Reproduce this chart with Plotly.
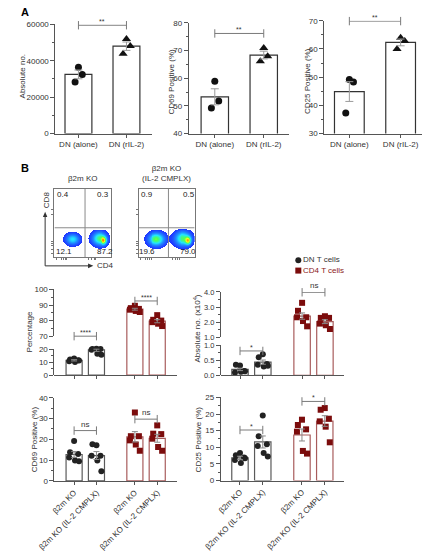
import numpy as np
import plotly.graph_objects as go

W, H = 426, 552
FONT = "Arial, Liberation Sans, sans-serif"

# ------------------------------------------------------------------ data
# Panel A
A_CATS = ["DN (alone)", "DN (rIL-2)"]
A_POS = [0, 1]
A1_MEAN = [32500, 48000]
A1_SEM = [2400, 2300]
A1_PTS = [[36500, 32500, 28400], [51900, 48100, 43800]]
A2_MEAN = [53.3, 68.4]
A2_SEM = [2.9, 1.4]
A2_PTS = [[58.9, 51.8, 49.3], [70.9, 68.0, 66.2]]
A3_MEAN = [44.9, 62.3]
A3_SEM = [3.5, 1.2]
A3_PTS = [[49.2, 48.3, 37.3], [64.0, 62.8, 60.0]]
A_SIG = ["**", "**", "**"]
A_SIG_Y = [59500, 76.2, 69.85]
A_JITTER = [0.0, 0.08, -0.07]

# Panel B - flow plots
FLOW_TITLES = ["β2m KO", "β2m KO<br>(IL-2 CMPLX)"]
FLOW_QUADS = [["0.4", "0.3", "12.1", "87.2"], ["0.9", "0.5", "19.6", "79.0"]]
# populations: centre x, centre y, sd x, sd y, relative density
FLOW_POPS = [
    [(0.32, 0.26, 0.082, 0.056, 0.42), (0.79, 0.27, 0.090, 0.068, 0.55), (0.87, 0.24, 0.035, 0.040, 0.50)],
    [(0.31, 0.26, 0.100, 0.066, 0.60), (0.78, 0.27, 0.100, 0.075, 0.55), (0.88, 0.24, 0.035, 0.040, 0.50)],
]
FLOW_GATES = [(0.54, 0.43), (0.53, 0.43)]

# Panel B - bar charts
B_CATS = ["β2m KO", "β2m KO (IL-2 CMPLX)", "β2m KO", "β2m KO (IL-2 CMPLX)"]
B_POS = [0, 1, 2.72, 3.72]
B_CELL = ["DN T cells", "DN T cells", "CD4 T cells", "CD4 T cells"]

PCT_MEAN = [11.5, 19.5, 87.3, 79.6]
PCT_SEM = [0.5, 1.1, 0.6, 1.0]
PCT_PTS = [[12.8, 12.2, 11.6, 10.8, 10.2, 11.4],
           [22.5, 21.0, 20.8, 19.6, 16.5, 15.8],
           [89.5, 88.0, 87.5, 87.0, 86.2, 85.5],
           [83.5, 80.5, 80.0, 79.0, 78.0, 76.5]]
PCT_SIG = [("****", 0, 1, 70.0), ("****", 2.72, 3.72, 92.6)]

ABS_MEAN = [0.20, 0.44, 2.40, 2.03]
ABS_SEM = [0.04, 0.07, 0.21, 0.13]
ABS_PTS = [[0.33, 0.35, 0.15, 0.10, 0.12, 0.14],
           [0.70, 0.60, 0.38, 0.35, 0.30, 0.32],
           [3.28, 2.75, 2.32, 2.32, 2.07, 1.72],
           [2.39, 2.28, 2.28, 1.90, 1.79, 1.54]]
ABS_SIG = [("*", 0, 1, 0.81), ("ns", 2.72, 3.72, 3.98)]

CD69_MEAN = [12.7, 12.2, 21.2, 20.5]
CD69_SEM = [1.4, 1.9, 2.5, 1.9]
CD69_PTS = [[19.2, 13.8, 12.9, 11.3, 9.8, 9.4],
            [17.2, 17.6, 12.1, 12.1, 9.8, 4.7],
            [32.9, 21.5, 21.5, 19.5, 17.5, 14.5],
            [26.7, 22.7, 22.5, 20.3, 16.3, 14.5]]
CD69_SIG = [("ns", 0, 1, 24.2), ("ns", 2.72, 3.72, 29.7)]

CD25_MEAN = [6.8, 11.6, 13.7, 17.9]
CD25_SEM = [0.5, 1.8, 1.8, 1.6]
CD25_PTS = [[8.3, 7.6, 6.9, 6.2, 5.3, 6.7],
            [19.6, 13.3, 10.9, 10.4, 8.3, 7.2],
            [18.3, 16.7, 15.4, 14.7, 8.9, 8.1],
            [21.8, 21.3, 18.6, 17.8, 16.2, 11.5]]
CD25_SIG = [("*", 0, 1, 15.2), ("*", 2.72, 3.72, 23.8)]
B_JITTER = [0.0, -0.18, 0.18, -0.22, 0.04, 0.22]

# ------------------------------------------------------------------ styles
LINE = "#555555"
SIGC = "#7a7a7a"
TICKFONT = dict(size=8, color="#333333")
A_STY = [dict(bar="#333333", sym="circle", size=7, mk="#111111", err="#9a9a9a", cap=4),
         dict(bar="#333333", sym="triangle-up", size=8, mk="#111111", err="#9a9a9a", cap=4)]
DN_STY = dict(bar="#5a5a5a", sym="circle", size=6, mk="#222222", err="#888888", cap=3)
CD4_STY = dict(bar="#a85c5c", sym="square", size=6, mk="#7b0c0c", err="#888888", cap=3)
B_STY = [DN_STY, DN_STY, CD4_STY, CD4_STY]
FLOW_SCALE = [[0, "#1f35ff"], [0.22, "#1f8fff"], [0.38, "#22e6ff"], [0.55, "#4cff5a"],
              [0.7, "#f2ff1e"], [0.83, "#ff8a00"], [1, "#ec0000"]]

layout = dict(width=W, height=H, autosize=False,
              margin=dict(l=0, r=0, t=0, b=0, pad=0),
              paper_bgcolor="white", plot_bgcolor="rgba(0,0,0,0)",
              font=dict(family=FONT, size=8, color="#333333"),
              showlegend=False, barmode="overlay")
traces, annotations, shapes = [], [], []
counters = {"x": 0, "y": 0}


def add_axis(kind):
    counters[kind] += 1
    n = counters[kind]
    return kind + ("" if n == 1 else str(n))


def key(ref):
    return ref[0] + "axis" + ref[1:]


def dom_x(a, b):
    return [a / W, b / W]


def dom_y(top, bot):
    return [1 - bot / H, 1 - top / H]


def y_props(domain, rng, dtick=None, mdtick=None, fmt=None, show=True, fsize=8):
    p = dict(domain=domain, range=rng, showgrid=False, zeroline=False, fixedrange=True)
    if show:
        p.update(showline=True, linecolor=LINE, linewidth=1, ticks="outside", ticklen=4,
                 tickwidth=1, tickcolor=LINE, tickmode="linear", tick0=rng[0], dtick=dtick,
                 tickfont=dict(size=fsize, color="#333333"),
                 minor=dict(ticks="outside", ticklen=2, tickwidth=1, tickcolor=LINE,
                            tickmode="linear", tick0=rng[0], dtick=mdtick, showgrid=False))
        if fmt:
            p["tickformat"] = fmt
    else:
        p.update(showline=False, ticks="", showticklabels=False)
    return p


def x_props(domain, rng, tickvals, ticktext=None, angle=0):
    p = dict(domain=domain, range=rng, showgrid=False, zeroline=False, fixedrange=True,
             showline=True, linecolor=LINE, linewidth=1, ticks="outside", ticklen=3,
             tickwidth=1, tickcolor=LINE, tickmode="array", tickvals=tickvals, tickfont=TICKFONT)
    if ticktext is None:
        p["showticklabels"] = False
    else:
        p.update(ticktext=ticktext, tickangle=angle)
    return p


def ident(v):
    return np.asarray(v, dtype=float)


def std_panel(xpx, ypx, xrng, yrng, dtick, mdtick, tickvals, ticktext, angle=0, fmt=None):
    xr, yr = add_axis("x"), add_axis("y")
    layout[key(xr)] = x_props(dom_x(*xpx), xrng, tickvals, ticktext, angle)
    layout[key(xr)]["anchor"] = yr
    layout[key(yr)] = y_props(dom_y(*ypx), yrng, dtick, mdtick, fmt)
    layout[key(yr)]["anchor"] = xr
    return xr, yr


def broken_panel(xpx, top, bot, lo_top, hi_bot, lo_seg, hi_seg, xrng, lo_t, hi_t,
                 tickvals, ticktext=None, fmt=None, fsize=8):
    px_lo, gap, px_hi = bot - lo_top, lo_top - hi_bot, hi_bot - top
    total = bot - top

    def tf(v):
        v = np.asarray(v, dtype=float)
        a0, a1 = lo_seg
        b0, b1 = hi_seg
        lo = (v - a0) / (a1 - a0) * px_lo
        hi = px_lo + gap + (v - b0) / (b1 - b0) * px_hi
        mid = px_lo + (v - a1) / max(b0 - a1, 1e-9) * gap
        return np.where(v <= a1, lo, np.where(v >= b0, hi, mid))

    xr = add_axis("x")
    yd, yl, yu = add_axis("y"), add_axis("y"), add_axis("y")
    layout[key(xr)] = x_props(dom_x(*xpx), xrng, tickvals, ticktext)
    layout[key(xr)]["anchor"] = yd
    layout[key(yd)] = y_props(dom_y(top, bot), [0, total], show=False)
    layout[key(yd)]["anchor"] = xr
    layout[key(yl)] = y_props(dom_y(lo_top, bot), list(lo_seg), lo_t[0], lo_t[1], fmt, fsize=fsize)
    layout[key(yl)]["anchor"] = xr
    layout[key(yu)] = y_props(dom_y(top, hi_bot), list(hi_seg), hi_t[0], hi_t[1], fmt, fsize=fsize)
    layout[key(yu)]["anchor"] = xr
    for ya in (yl, yu):
        traces.append(go.Scatter(x=[None], y=[None], xaxis=xr, yaxis=ya, showlegend=False,
                                 hoverinfo="skip"))
    return xr, yd, tf


def draw_groups(xr, yr, pos, means, sems, pts, jitter, styles, width, tf=ident):
    for p, m, s, pp, st in zip(pos, means, sems, pts, styles):
        ym = float(tf(m))
        traces.append(go.Bar(x=[p], y=[ym], width=width, xaxis=xr, yaxis=yr,
                             marker=dict(color="white", line=dict(color=st["bar"], width=1.2)),
                             showlegend=False, hoverinfo="skip"))
        traces.append(go.Scatter(x=[p + j for j in jitter[:len(pp)]], y=tf(pp).tolist(),
                                 mode="markers", xaxis=xr, yaxis=yr, cliponaxis=False,
                                 marker=dict(symbol=st["sym"], size=st["size"], color=st["mk"]),
                                 showlegend=False, hoverinfo="skip"))
        up = float(tf(m + s)) - ym
        dn = ym - float(tf(m - s))
        traces.append(go.Scatter(x=[p], y=[ym], mode="markers", xaxis=xr, yaxis=yr,
                                 marker=dict(size=1, color="rgba(0,0,0,0)"), cliponaxis=False,
                                 error_y=dict(type="data", symmetric=False, array=[up],
                                              arrayminus=[dn], color=st["err"], thickness=1,
                                              width=st["cap"]),
                                 showlegend=False, hoverinfo="skip"))


def sig(xr, yr, x0, x1, y, text, tf=ident):
    yy = float(tf(y))
    traces.append(go.Scatter(x=[x0, x1], y=[yy, yy], mode="lines+markers", xaxis=xr, yaxis=yr,
                             line=dict(color=SIGC, width=1), cliponaxis=False,
                             marker=dict(symbol="line-ns-open", size=6,
                                         line=dict(color=SIGC, width=1)),
                             showlegend=False, hoverinfo="skip"))
    star = "*" in text
    annotations.append(dict(text=text, x=(x0 + x1) / 2, y=yy, xref=xr, yref=yr,
                            showarrow=False, yanchor="bottom", xanchor="center",
                            yshift=-2 if star else 0,
                            font=dict(size=7 if star else 8, color="#333333")))


def paper_text(text, px, py, angle=0, size=8, color="#333333", xanchor="center",
               yanchor="middle", bold=False):
    annotations.append(dict(text=f"<b>{text}</b>" if bold else text, x=px / W, y=1 - py / H,
                            xref="paper", yref="paper", showarrow=False, textangle=angle,
                            xanchor=xanchor, yanchor=yanchor,
                            font=dict(size=size, color=color)))


# ------------------------------------------------------------------ panel A
A_PANELS = [
    dict(xpx=(40, 141), ypx=(20.7, 132), xrng=[-0.48, 1.54], yrng=[0, 60000], dt=20000, mdt=10000,
         mean=A1_MEAN, sem=A1_SEM, pts=A1_PTS, w=0.56, title="Absolute no.", tx=6, ty=74, fmt="d"),
    dict(xpx=(179, 283), ypx=(19.3, 132), xrng=[-0.53, 1.51], yrng=[40, 80], dt=10, mdt=5,
         mean=A2_MEAN, sem=A2_SEM, pts=A2_PTS, w=0.56, title="CD69 Positive (%)", tx=161.5, ty=79, fmt="d"),
    dict(xpx=(320, 422), ypx=(17, 132), xrng=[-0.49, 1.42], yrng=[30, 70], dt=10, mdt=5,
         mean=A3_MEAN, sem=A3_SEM, pts=A3_PTS, w=0.58, title="CD25 Positive (%)", tx=302.5, ty=78, fmt="d"),
]
for i, P in enumerate(A_PANELS):
    xr, yr = std_panel(P["xpx"], P["ypx"], P["xrng"], P["yrng"], P["dt"], P["mdt"], A_POS, A_CATS,
                       fmt=P["fmt"])
    draw_groups(xr, yr, A_POS, P["mean"], P["sem"], P["pts"], A_JITTER, A_STY, P["w"])
    sig(xr, yr, A_POS[0], A_POS[1], A_SIG_Y[i], A_SIG[i])
    paper_text(P["title"], P["tx"], P["ty"], angle=-90)

paper_text("A", 2, 8, size=11, color="#000000", xanchor="left", bold=True)
paper_text("B", 2, 167, size=11, color="#000000", xanchor="left", bold=True)

# ------------------------------------------------------------------ flow plots
FLOW_BOX = [dict(x=(39, 98), y=(188, 258), tx=69, quad=[(0.15, 0.91), (0.86, 0.91), (0.17, 0.09), (0.89, 0.09)]),
            dict(x=(127, 185), y=(188, 258), tx=156, quad=[(0.14, 0.91), (0.9, 0.91), (0.15, 0.09), (0.88, 0.09)])]
gx = np.linspace(0, 1, 61)
gy = np.linspace(0, 1, 71)
GX, GY = np.meshgrid(gx, gy)
THR = 0.06
for k, B in enumerate(FLOW_BOX):
    xr, yr = add_axis("x"), add_axis("y")
    common = dict(range=[0, 1], showgrid=False, zeroline=False, fixedrange=True, showline=True,
                  mirror=True, linecolor="#777777", linewidth=1, ticks="outside", ticklen=2,
                  tickcolor="#777777", showticklabels=False, tickmode="array")
    layout[key(xr)] = dict(domain=dom_x(*B["x"]), anchor=yr,
                           tickvals=[0.03, 0.12, 0.16, 0.19, 0.22, 0.6, 0.66, 0.7, 0.73], **common)
    layout[key(yr)] = dict(domain=dom_y(*B["y"]), anchor=xr,
                           tickvals=[0.05, 0.12, 0.17, 0.2, 0.23, 0.62, 0.7], **common)
    Z = np.zeros_like(GX)
    for cx, cy, sx, sy, a in FLOW_POPS[k]:
        Z += a * np.exp(-0.5 * (((GX - cx) / sx) ** 2 + ((GY - cy) / sy) ** 2))
    Zl = [[float(v) if v >= THR else None for v in row] for row in Z]
    traces.append(go.Heatmap(x=gx, y=gy, z=Zl, colorscale=FLOW_SCALE, zmin=THR, zmax=1.0,
                             showscale=False, xaxis=xr, yaxis=yr, hoverinfo="skip"))
    vx, hy = FLOW_GATES[k]
    shapes.append(dict(type="line", xref=xr, yref=yr, x0=vx, x1=vx, y0=0, y1=1,
                       line=dict(color="#8a8a8a", width=1)))
    shapes.append(dict(type="line", xref=xr, yref=yr, x0=0, x1=1, y0=hy, y1=hy,
                       line=dict(color="#8a8a8a", width=1)))
    for txt, (qx, qy) in zip(FLOW_QUADS[k], B["quad"]):
        annotations.append(dict(text=txt, x=qx, y=qy, xref=xr, yref=yr, showarrow=False,
                                font=dict(size=8, color="#222222")))
    paper_text(FLOW_TITLES[k], B["tx"], 184.5, yanchor="bottom")

# axis arrows for the flow plots
shapes.append(dict(type="line", xref="paper", yref="paper", x0=29.3 / W, x1=29.3 / W,
                   y0=1 - 266.7 / H, y1=1 - 216 / H, line=dict(color="#333333", width=1)))
shapes.append(dict(type="line", xref="paper", yref="paper", x0=29.3 / W, x1=75 / W,
                   y0=1 - 266.7 / H, y1=1 - 266.7 / H, line=dict(color="#333333", width=1)))
shapes.append(dict(type="path", xref="paper", yref="paper",
                   path=f"M {27 / W},{1 - 217 / H} L {31.6 / W},{1 - 217 / H} L {29.3 / W},{1 - 211.5 / H} Z",
                   fillcolor="#333333", line=dict(width=0)))
shapes.append(dict(type="path", xref="paper", yref="paper",
                   path=f"M {74 / W},{1 - 264.4 / H} L {74 / W},{1 - 269 / H} L {79.5 / W},{1 - 266.7 / H} Z",
                   fillcolor="#333333", line=dict(width=0)))
paper_text("CD8", 31, 199, angle=-90)
paper_text("CD4", 81, 266.7, xanchor="left")

# legend
lx, ly = add_axis("x"), add_axis("y")
layout[key(lx)] = dict(domain=dom_x(293, 400), range=[0, 1], visible=False, anchor=ly, fixedrange=True)
layout[key(ly)] = dict(domain=dom_y(261, 271.5), range=[0, 1], visible=False, anchor=lx, fixedrange=True)
for yv, name, st, col in [(1, "DN T cells", DN_STY, "#333333"), (0, "CD4 T cells", CD4_STY, "#8b1a1a")]:
    traces.append(go.Scatter(x=[0], y=[yv], mode="markers+text", text=[name],
                             textposition="middle right", textfont=dict(size=8, color=col),
                             marker=dict(symbol=st["sym"], size=6, color=st["mk"]),
                             xaxis=lx, yaxis=ly, cliponaxis=False, showlegend=False,
                             hoverinfo="skip"))

# ------------------------------------------------------------------ B bar panels
# Percentage (broken axis 0-20 / 70-100)
xr, yd, tf = broken_panel((39, 167), 290.7, 378, 351.7, 338.3, (0, 20), (70, 100),
                          [-0.88, 4.62], (10, 5), (10, 5), B_POS)
draw_groups(xr, yd, B_POS, PCT_MEAN, PCT_SEM, PCT_PTS, B_JITTER, B_STY, 0.72, tf)
for t, x0, x1, y in PCT_SIG:
    sig(xr, yd, x0, x1, y, t, tf)
paper_text("Percentage", 13, 334, angle=-90)

# Absolute number (broken axis 0-1 / 1-4)
xr, yd, tf = broken_panel((212.3, 340.7), 293.3, 378.3, 347.5, 339.3, (0, 1), (1, 4),
                          [-0.84, 4.56], (0.5, 0.25), (1, 0.5), B_POS, fmt=".1f", fsize=7.5)
draw_groups(xr, yd, B_POS, ABS_MEAN, ABS_SEM, ABS_PTS, B_JITTER, B_STY, 0.72, tf)
for t, x0, x1, y in ABS_SIG:
    sig(xr, yd, x0, x1, y, t, tf)
paper_text("Absolute no. (x10<sup>4</sup>)", 187, 331, angle=-90)

# CD69
xr, yr = std_panel((39, 167), (401, 485.7), [-0.88, 4.62], [0, 40], 10, 5, B_POS, B_CATS, angle=-45)
draw_groups(xr, yr, B_POS, CD69_MEAN, CD69_SEM, CD69_PTS, B_JITTER, B_STY, 0.72)
for t, x0, x1, y in CD69_SIG:
    sig(xr, yr, x0, x1, y, t)
paper_text("CD69 Positive (%)", 19, 443, angle=-90)

# CD25
xr, yr = std_panel((212.3, 340.5), (400.7, 485.3), [-0.84, 4.56], [0, 25], 5, 2.5, B_POS, B_CATS, angle=-45)
draw_groups(xr, yr, B_POS, CD25_MEAN, CD25_SEM, CD25_PTS, B_JITTER, B_STY, 0.72)
for t, x0, x1, y in CD25_SIG:
    sig(xr, yr, x0, x1, y, t)
paper_text("CD25 Positive (%)", 190, 443, angle=-90)

layout["annotations"] = annotations
layout["shapes"] = shapes
fig = go.Figure(data=traces, layout=layout)
fig.write_html("out.html", config={"displayModeBar": False, "staticPlot": True},
               post_script="document.body.style.margin='0';")
